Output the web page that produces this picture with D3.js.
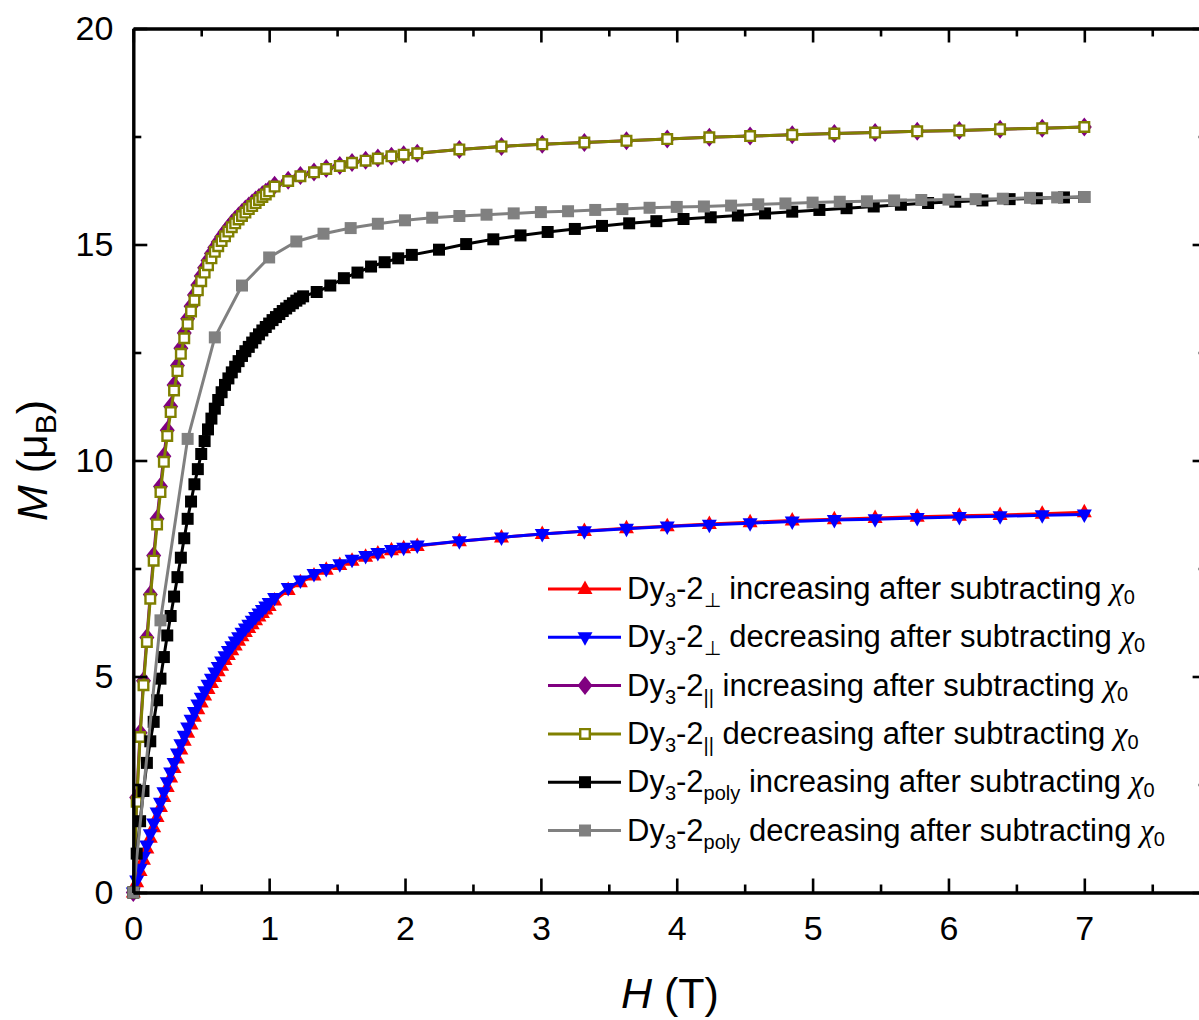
<!DOCTYPE html>
<html>
<head>
<meta charset="utf-8">
<script src="https://cdn.jsdelivr.net/npm/d3@7/dist/d3.min.js"></script>
<style>
  body { margin: 0; background: #fff; }
  svg { display: block; font-family: "Liberation Sans", Arial, sans-serif; }
</style>
</head>
<body>
<script>
// field values (T) for the perpendicular / parallel sweeps
var hFine = [0, 0.025, 0.05, 0.075, 0.1, 0.125, 0.15, 0.175, 0.2, 0.225, 0.25, 0.275, 0.3, 0.325, 0.35, 0.375, 0.4,
  0.425, 0.45, 0.475, 0.5, 0.525, 0.55, 0.575, 0.6, 0.625, 0.65, 0.675, 0.7, 0.725, 0.75, 0.775, 0.8, 0.825, 0.85,
  0.875, 0.9, 0.925, 0.95, 0.975, 1.0,
  1.04, 1.14, 1.23, 1.33, 1.42, 1.52, 1.61, 1.71, 1.80, 1.90, 1.99, 2.09, 2.40, 2.71, 3.01, 3.32, 3.63, 3.93,
  4.24, 4.54, 4.85, 5.16, 5.46, 5.77, 6.08, 6.38, 6.69, 7.0];

var mPerpInc = [0, 0.24, 0.5, 0.76, 1.02, 1.27, 1.51, 1.75, 1.98, 2.21, 2.44, 2.66, 2.88, 3.1, 3.31, 3.51, 3.7, 3.89,
  4.07, 4.24, 4.4, 4.56, 4.71, 4.85, 4.99, 5.12, 5.25, 5.38, 5.5, 5.61, 5.72, 5.83, 5.93, 6.03, 6.12, 6.21, 6.3,
  6.39, 6.47, 6.55, 6.63,
  6.76, 7.0, 7.18, 7.34, 7.47, 7.58, 7.68, 7.77, 7.85, 7.92, 7.97, 8.02, 8.13, 8.22, 8.3, 8.37, 8.43, 8.48,
  8.53, 8.57, 8.61, 8.64, 8.67, 8.7, 8.72, 8.74, 8.77, 8.8];

var mPerpDec = [0, 0.28, 0.55, 0.82, 1.09, 1.35, 1.6, 1.85, 2.08, 2.32, 2.55, 2.78, 3.0, 3.22, 3.43, 3.63, 3.82, 4.0,
  4.18, 4.35, 4.51, 4.66, 4.81, 4.95, 5.09, 5.22, 5.35, 5.47, 5.59, 5.7, 5.81, 5.91, 6.01, 6.11, 6.2, 6.29, 6.38,
  6.46, 6.54, 6.62, 6.7,
  6.82, 7.05, 7.22, 7.37, 7.49, 7.6, 7.7, 7.79, 7.86, 7.93, 7.98, 8.03, 8.13, 8.22, 8.3, 8.36, 8.42, 8.47,
  8.51, 8.55, 8.59, 8.62, 8.64, 8.67, 8.69, 8.71, 8.73, 8.75];

var mParInc = [0, 2.2, 3.7, 4.9, 5.9, 6.9, 7.8, 8.65, 9.4, 10.1, 10.7, 11.25, 11.75, 12.2, 12.6, 12.95, 13.28, 13.57,
  13.83, 14.06, 14.27, 14.46, 14.63, 14.79, 14.93, 15.06, 15.18, 15.29, 15.39, 15.49, 15.58, 15.66, 15.74, 15.82,
  15.89, 15.96, 16.03, 16.09, 16.15, 16.21, 16.27,
  16.37, 16.49, 16.6, 16.68, 16.76, 16.83, 16.9, 16.95, 17.0, 17.04, 17.08, 17.11, 17.2, 17.27, 17.32, 17.36,
  17.4, 17.44, 17.48, 17.51, 17.54, 17.57, 17.59, 17.62, 17.64, 17.67, 17.69, 17.72];

var mParDec = [0, 2.1, 3.6, 4.8, 5.8, 6.8, 7.68, 8.52, 9.27, 9.97, 10.57, 11.12, 11.62, 12.07, 12.47, 12.83, 13.16,
  13.45, 13.71, 13.94, 14.15, 14.35, 14.52, 14.68, 14.83, 14.96, 15.08, 15.19, 15.3, 15.4, 15.49, 15.58, 15.66,
  15.74, 15.82, 15.89, 15.96, 16.03, 16.1, 16.16, 16.23,
  16.34, 16.47, 16.58, 16.67, 16.75, 16.82, 16.89, 16.94, 16.99, 17.04, 17.08, 17.11, 17.2, 17.27, 17.32, 17.36,
  17.4, 17.44, 17.48, 17.51, 17.54, 17.57, 17.59, 17.62, 17.64, 17.67, 17.69, 17.72];

// polycrystalline sample
var hPolyInc = [0, 0.025, 0.05, 0.075, 0.1, 0.125, 0.15, 0.175, 0.2, 0.225, 0.25, 0.275, 0.3, 0.325, 0.35, 0.375,
  0.4, 0.425, 0.45, 0.475, 0.5, 0.525, 0.55, 0.575, 0.6, 0.625, 0.65, 0.675, 0.7, 0.725, 0.75, 0.775, 0.8, 0.825,
  0.85, 0.875, 0.9, 0.925, 0.95, 0.975, 1.0, 1.025, 1.05, 1.075, 1.1, 1.125, 1.15, 1.175, 1.2, 1.225, 1.25,
  1.35, 1.45, 1.55, 1.65, 1.75, 1.85, 1.95, 2.05, 2.25, 2.45, 2.65, 2.85, 3.05, 3.25, 3.45, 3.65, 3.85, 4.05,
  4.25, 4.45, 4.65, 4.85, 5.05, 5.25, 5.45, 5.65, 5.85, 6.05, 6.25, 6.45, 6.65, 6.85, 7.0];

var mPolyInc = [0, 0.9, 1.65, 2.35, 3.0, 3.5, 3.95, 4.45, 4.95, 5.45, 5.95, 6.4, 6.85, 7.3, 7.75, 8.2, 8.65, 9.05,
  9.45, 9.8, 10.15, 10.45, 10.72, 10.97, 11.2, 11.4, 11.58, 11.75, 11.9, 12.04, 12.17, 12.3, 12.42, 12.53, 12.63,
  12.73, 12.83, 12.92, 13.01, 13.09, 13.17, 13.25, 13.32, 13.39, 13.46, 13.52, 13.58, 13.64, 13.7, 13.75, 13.8,
  13.9, 14.05, 14.22, 14.35, 14.49, 14.59, 14.68, 14.76, 14.88, 15.01, 15.12, 15.21, 15.29, 15.36, 15.43, 15.49,
  15.54, 15.59, 15.63, 15.67, 15.72, 15.76, 15.8, 15.84, 15.88, 15.92, 15.96, 15.99, 16.02, 16.05, 16.07, 16.09, 16.1];

var hPolyDec = [0, 0.2, 0.4, 0.6, 0.8, 1.0, 1.2, 1.4, 1.6, 1.8, 2.0, 2.2, 2.4, 2.6, 2.8, 3.0, 3.2, 3.4, 3.6, 3.8,
  4.0, 4.2, 4.4, 4.6, 4.8, 5.0, 5.2, 5.4, 5.6, 5.8, 6.0, 6.2, 6.4, 6.6, 6.8, 7.0];

var mPolyDec = [0, 6.3, 10.5, 12.85, 14.05, 14.7, 15.07, 15.25, 15.38, 15.48, 15.56, 15.62, 15.66, 15.69, 15.72,
  15.75, 15.77, 15.8, 15.82, 15.85, 15.87, 15.88, 15.9, 15.93, 15.95, 15.97, 15.99, 16.0, 16.02, 16.03, 16.04,
  16.05, 16.06, 16.08, 16.09, 16.1];

var xTicks = [0, 1, 2, 3, 4, 5, 6, 7];
var yTicks = [0, 5, 10, 15, 20];

var legendSub = ["\u22A5", "\u22A5", "||", "||", "poly", "poly"];
var legendRest = [" increasing after subtracting ", " decreasing after subtracting ",
  " increasing after subtracting ", " decreasing after subtracting ",
  " increasing after subtracting ", " decreasing after subtracting "];

var series = [
  { h: hFine, m: mPerpInc, color: "#ff0000", marker: "triUp" },
  { h: hFine, m: mPerpDec, color: "#0000ff", marker: "triDown" },
  { h: hFine, m: mParInc, color: "#800080", marker: "diamond" },
  { h: hFine, m: mParDec, color: "#808000", marker: "openSquare" },
  { h: hPolyInc, m: mPolyInc, color: "#000000", marker: "square" },
  { h: hPolyDec, m: mPolyDec, color: "#808080", marker: "square" }
];

var W = 1199, H = 1020;
var svg = d3.select("body").append("svg")
  .attr("width", W)
  .attr("height", H);
svg.append("rect").attr("width", W).attr("height", H).attr("fill", "#fff");

var x = d3.scaleLinear().domain([0, 7.9]).range([133.3, 133.3 + 7.9 * 135.86]);
var y = d3.scaleLinear().domain([0, 20]).range([892.5, 28.5]);

var x0 = x.range()[0], x1 = x.range()[1], y0 = y.range()[0], y1 = y.range()[1];

function markerPath(type) {
  if (type == "triUp") return "M0,-8.5L7.5,5L-7.5,5Z";
  if (type == "triDown") return "M0,8.5L7.5,-5L-7.5,-5Z";
  if (type == "diamond") return "M0,-9.5L7.5,0L0,9.5L-7.5,0Z";
  if (type == "square") return "M-6,-6H6V6H-6Z";
  return "M-4.8,-4.8H4.8V4.8H-4.8Z";
}

function drawMarker(g, type, color) {
  var p = g.append("path").attr("d", markerPath(type));
  if (type == "openSquare") {
    p.attr("fill", "#fff").attr("stroke", color).attr("stroke-width", 2.4);
  } else {
    p.attr("fill", color);
  }
}

// curves
var plot = svg.append("g");
series.forEach(function (s) {
  var pts = s.h.map(function (h, i) { return [h, s.m[i]]; });
  var line = d3.line()
    .x(function (d) { return x(d[0]); })
    .y(function (d) { return y(d[1]); });
  plot.append("path")
    .datum(pts)
    .attr("d", line)
    .attr("fill", "none")
    .attr("stroke", s.color)
    .attr("stroke-width", 3)
    .attr("stroke-linejoin", "round");
  pts.forEach(function (d) {
    var g = plot.append("g").attr("transform", "translate(" + x(d[0]) + "," + y(d[1]) + ")");
    drawMarker(g, s.marker, s.color);
  });
});

// axes
function styleAxis(g) {
  g.selectAll("path.domain").attr("stroke", "#000").attr("stroke-width", 3);
  g.selectAll(".tick line").attr("stroke", "#000").attr("stroke-width", 2.6);
  g.selectAll(".tick text").attr("fill", "#000").style("font-size", "34px")
    .style("font-family", "'Liberation Sans', Arial, sans-serif");
}

var xMinor = [0.5, 1.5, 2.5, 3.5, 4.5, 5.5, 6.5, 7.5];
var yMinor = [2.5, 7.5, 12.5, 17.5];

// bottom
svg.append("g").attr("transform", "translate(0," + y0 + ")")
  .call(d3.axisBottom(x).tickValues(xMinor).tickSize(-8).tickSizeOuter(0).tickFormat(""))
  .call(styleAxis);
svg.append("g").attr("transform", "translate(0," + y0 + ")")
  .call(d3.axisBottom(x).tickValues(xTicks).tickSize(-14).tickSizeOuter(0).tickPadding(23).tickFormat(d3.format("d")))
  .call(styleAxis);
// top
svg.append("g").attr("transform", "translate(0," + y1 + ")")
  .call(d3.axisTop(x).tickValues(xMinor).tickSize(-8).tickSizeOuter(0).tickFormat(""))
  .call(styleAxis);
svg.append("g").attr("transform", "translate(0," + y1 + ")")
  .call(d3.axisTop(x).tickValues(xTicks).tickSize(-14).tickSizeOuter(0).tickFormat(""))
  .call(styleAxis);
// left
svg.append("g").attr("transform", "translate(" + x0 + ",0)")
  .call(d3.axisLeft(y).tickValues(yMinor).tickSize(-8).tickSizeOuter(0).tickFormat(""))
  .call(styleAxis);
svg.append("g").attr("transform", "translate(" + x0 + ",0)")
  .call(d3.axisLeft(y).tickValues(yTicks).tickSize(-14).tickSizeOuter(0).tickPadding(20).tickFormat(d3.format("d")))
  .call(styleAxis);
// right
svg.append("g").attr("transform", "translate(" + x1 + ",0)")
  .call(d3.axisRight(y).tickValues(yMinor).tickSize(-8).tickSizeOuter(0).tickFormat(""))
  .call(styleAxis);
svg.append("g").attr("transform", "translate(" + x1 + ",0)")
  .call(d3.axisRight(y).tickValues(yTicks).tickSize(-14).tickSizeOuter(0).tickFormat(""))
  .call(styleAxis);

// axis titles
var xt = svg.append("text")
  .attr("x", (x0 + x1) / 2).attr("y", 1008)
  .attr("text-anchor", "middle")
  .style("font-size", "43px");
xt.append("tspan").style("font-style", "italic").text("H");
xt.append("tspan").text(" (T)");

var yt = svg.append("text")
  .attr("transform", "translate(47," + (y0 + y1) / 2 + ") rotate(-90)")
  .attr("text-anchor", "middle")
  .style("font-size", "43px");
yt.append("tspan").style("font-style", "italic").text("M");
yt.append("tspan").text(" (\u03BC");
yt.append("tspan").attr("dy", 9).style("font-size", "30px").text("B");
yt.append("tspan").attr("dy", -9).text(")");

// legend
var legY0 = 589, legStep = 48.3;
series.forEach(function (s, i) {
  var ly = legY0 + i * legStep;
  var g = svg.append("g");
  g.append("line")
    .attr("x1", 548).attr("x2", 621)
    .attr("y1", ly).attr("y2", ly)
    .attr("stroke", s.color).attr("stroke-width", 3);
  var mg = g.append("g").attr("transform", "translate(585," + ly + ")");
  drawMarker(mg, s.marker, s.color);

  var t = g.append("text")
    .attr("x", 627).attr("y", ly + 10)
    .style("font-size", "31px")
    .attr("fill", "#000");
  t.append("tspan").text("Dy");
  t.append("tspan").attr("dy", 8).style("font-size", "20px").text("3");
  t.append("tspan").attr("dy", -8).text("-2");
  t.append("tspan").attr("dy", 8).style("font-size", "20px").text(legendSub[i]);
  t.append("tspan").attr("dy", -8).text(legendRest[i]);
  t.append("tspan").style("font-style", "italic")
    .style("font-family", "'Liberation Serif', 'DejaVu Serif', serif").text("\u03C7");
  t.append("tspan").attr("dy", 5).style("font-size", "20px").text("0");
});
</script>
</body>
</html>
